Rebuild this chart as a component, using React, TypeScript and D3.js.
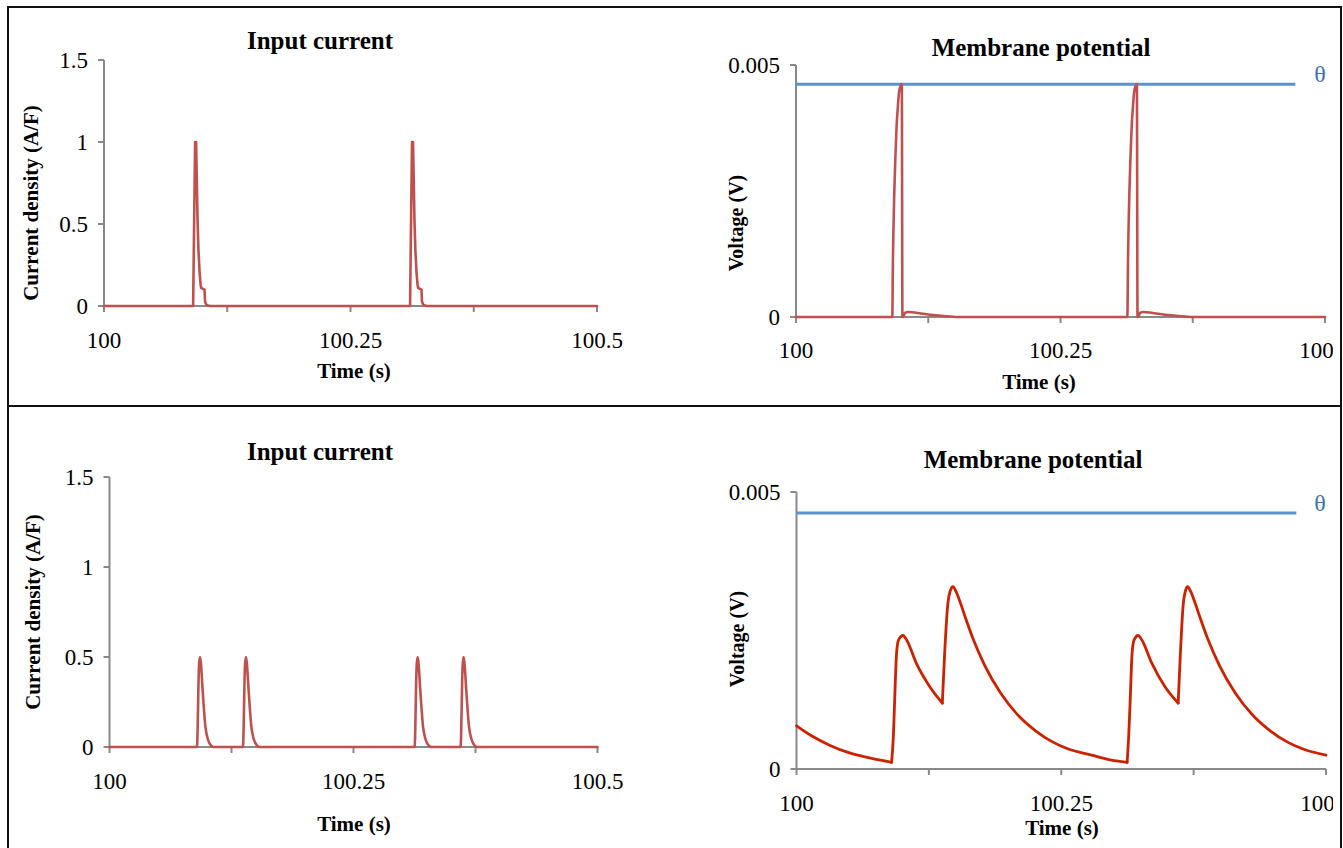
import React, { useEffect, useRef } from 'react';
import * as d3 from 'd3';

// shared axes
const timeTicks = [100, 100.125, 100.25, 100.375, 100.5];
const timeTickLabels = ['100', '', '100.25', '', '100.5'];
const currentTicks = [0, 0.5, 1, 1.5];
const currentTickLabels = ['0', '0.5', '1', '1.5'];
const voltageTicks = [0, 0.005];
const voltageTickLabels = ['0', '0.005'];

// threshold line
const thetaT = [100, 100.472];
const thetaV = [0.00462, 0.00462];

// case 1: two strong pulses, neuron fires
const current1T = [
  100, 100.0904, 100.0924, 100.0934, 100.0941, 100.0949, 100.0958, 100.097, 100.098, 100.0986,
  100.102, 100.1024, 100.1035, 100.1046, 100.1076,
  100.3104, 100.3124, 100.3134, 100.3141, 100.3149, 100.3158, 100.317, 100.318, 100.3186,
  100.322, 100.3224, 100.3235, 100.3246, 100.3276, 100.5,
];
const current1V = [
  0, 0, 1, 1, 0.78, 0.52, 0.34, 0.2, 0.13, 0.11,
  0.1, 0.03, 0.012, 0.005, 0,
  0, 1, 1, 0.78, 0.52, 0.34, 0.2, 0.13, 0.11,
  0.1, 0.03, 0.012, 0.005, 0, 0,
];
const voltage1T = [
  100, 100.091, 100.0916, 100.0929, 100.094, 100.0951, 100.0963, 100.0974, 100.0988, 100.1,
  100.1006, 100.1012, 100.103, 100.106, 100.115, 100.13, 100.155,
  100.3132, 100.3138, 100.3151, 100.3162, 100.3173, 100.3185, 100.3196, 100.321, 100.3222,
  100.3228, 100.3234, 100.3252, 100.3282, 100.3372, 100.3522, 100.3772, 100.5,
];
const voltage1V = [
  0, 0, 0.0011, 0.00247, 0.0032, 0.00379, 0.00418, 0.00446, 0.00458, 0.00462,
  0, 0, 0.00008, 0.0001, 0.00008, 0.00004, 0,
  0, 0.0011, 0.00247, 0.0032, 0.00379, 0.00418, 0.00446, 0.00458, 0.00462,
  0, 0, 0.00008, 0.0001, 0.00008, 0.00004, 0, 0,
];

// case 2: four weak pulses, no spike
const current2T = [
  100,
  100.0896, 100.0917, 100.0927, 100.0937, 100.0955, 100.0983, 100.1004, 100.1025, 100.1066,
  100.1367, 100.1388, 100.1398, 100.1408, 100.1426, 100.1454, 100.1475, 100.1496, 100.1537,
  100.3126, 100.3147, 100.3157, 100.3167, 100.3185, 100.3213, 100.3234, 100.3255, 100.3296,
  100.3597, 100.3618, 100.3628, 100.3638, 100.3656, 100.3684, 100.3705, 100.3726, 100.3767,
  100.5,
];
const current2V = [
  0,
  0, 0.45, 0.5, 0.46, 0.31, 0.11, 0.05, 0.02, 0,
  0, 0.45, 0.5, 0.46, 0.31, 0.11, 0.05, 0.02, 0,
  0, 0.45, 0.5, 0.46, 0.31, 0.11, 0.05, 0.02, 0,
  0, 0.45, 0.5, 0.46, 0.31, 0.11, 0.05, 0.02, 0,
  0,
];
const voltage2T = [
  100, 100.015, 100.0312, 100.0501, 100.069, 100.0898,
  100.0915, 100.0926, 100.0945, 100.0964, 100.1005, 100.104, 100.1131, 100.1257, 100.1377,
  100.1399, 100.143, 100.1451, 100.1477, 100.1507, 100.1547, 100.1597, 100.1667, 100.1777,
  100.1927, 100.2097, 100.2257, 100.2417, 100.2567, 100.2787, 100.295, 100.3122,
  100.3137, 100.315, 100.3169, 100.3188, 100.3226, 100.3261, 100.3355, 100.3478, 100.3604,
  100.3625, 100.3653, 100.3672, 100.3693, 100.3723, 100.3763, 100.3813, 100.3883, 100.3993,
  100.4143, 100.4313, 100.4473, 100.4633, 100.4783, 100.5,
];
const voltage2V = [
  0.00078, 0.00059, 0.00043, 0.00029, 0.0002, 0.00012,
  0.0006, 0.00119, 0.00209, 0.00233, 0.00241, 0.00233, 0.00191, 0.00149, 0.00119,
  0.00209, 0.003, 0.00321, 0.00329, 0.0032, 0.003, 0.00272, 0.00235, 0.00187,
  0.00137, 0.00096, 0.00069, 0.00049, 0.00036, 0.00025, 0.00017, 0.00012,
  0.0006, 0.00119, 0.00209, 0.00233, 0.00241, 0.00233, 0.00191, 0.00149, 0.00119,
  0.00209, 0.003, 0.00321, 0.00329, 0.0032, 0.003, 0.00272, 0.00235, 0.00187,
  0.00137, 0.00096, 0.00069, 0.00049, 0.00036, 0.00025,
];

const FONT = "'Liberation Serif', 'Times New Roman', serif";
const AXIS = '#898989';
const RED = '#c0504d';

const zip = (t: number[], v: number[]) => t.map((d, i) => [d, v[i]] as [number, number]);

function drawPanel(svg: any, p: any) {
  const x = d3.scaleLinear().domain([100, 100.5]).range([p.x0, p.x1]);
  const y = d3.scaleLinear().domain([0, p.yMax]).range([p.yBottom, p.yTop]);
  const g = svg.append('g');

  // y axis
  g.append('line')
    .attr('x1', p.x0).attr('x2', p.x0)
    .attr('y1', p.yTop).attr('y2', p.yBottom)
    .attr('stroke', AXIS).attr('stroke-width', 2);
  g.selectAll('.yt').data(p.yTicks).enter().append('line')
    .attr('x1', p.x0 - 6).attr('x2', p.x0)
    .attr('y1', (d: number) => y(d)).attr('y2', (d: number) => y(d))
    .attr('stroke', AXIS).attr('stroke-width', 2);
  g.selectAll('.yl').data(p.yTicks).enter().append('text')
    .attr('x', p.x0 - 16)
    .attr('y', (d: number) => y(d))
    .attr('dy', '0.34em')
    .attr('text-anchor', 'end')
    .attr('font-family', FONT).attr('font-size', 23)
    .text((d: number, i: number) => p.yLabels[i]);

  // x axis
  g.append('line')
    .attr('x1', p.x0).attr('x2', p.x1)
    .attr('y1', p.yBottom).attr('y2', p.yBottom)
    .attr('stroke', AXIS).attr('stroke-width', 2);
  g.selectAll('.xt').data(timeTicks).enter().append('line')
    .attr('x1', (d: number) => x(d)).attr('x2', (d: number) => x(d))
    .attr('y1', p.yBottom).attr('y2', p.yBottom + 6)
    .attr('stroke', AXIS).attr('stroke-width', 2);
  g.selectAll('.xl').data(timeTicks).enter().append('text')
    .attr('x', (d: number) => x(d))
    .attr('y', p.yBottom + p.tickGap)
    .attr('text-anchor', 'middle')
    .attr('font-family', FONT).attr('font-size', 23)
    .attr('clip-path', 'url(#page-clip)')
    .text((d: number, i: number) => timeTickLabels[i]);

  // titles
  g.append('text')
    .attr('x', p.titleX).attr('y', p.titleY)
    .attr('text-anchor', 'middle')
    .attr('font-family', FONT).attr('font-size', 25).attr('font-weight', 'bold')
    .text(p.title);
  g.append('text')
    .attr('x', p.xLabelX).attr('y', p.xLabelY)
    .attr('text-anchor', 'middle')
    .attr('font-family', FONT).attr('font-size', 21).attr('font-weight', 'bold')
    .text('Time (s)');
  g.append('text')
    .attr('transform', `translate(${p.yLabelX}, ${p.yLabelY}) rotate(-90)`)
    .attr('dy', '0.35em')
    .attr('text-anchor', 'middle')
    .attr('font-family', FONT).attr('font-size', p.yLabelSize).attr('font-weight', 'bold')
    .text(p.yLabel);

  // threshold
  if (p.theta) {
    const th = zip(thetaT, thetaV);
    g.append('path')
      .attr('d', d3.line().x((d) => x(d[0])).y((d) => y(d[1]))(th))
      .attr('fill', 'none').attr('stroke', '#5b93cf').attr('stroke-width', 3);
    g.append('text')
      .attr('x', 1320).attr('y', y(thetaV[0]) - 2)
      .attr('text-anchor', 'middle')
      .attr('font-family', FONT).attr('font-size', 24)
      .attr('fill', '#3f72b0')
      .text('θ');
  }

  // series, split at sharp minima so those stay pointed
  const pts = zip(p.t, p.v);
  const segs: [number, number][][] = [];
  let cur: [number, number][] = [pts[0]];
  for (let i = 1; i < pts.length; i++) {
    cur.push(pts[i]);
    if (p.split && i < pts.length - 1 && pts[i][1] < pts[i - 1][1] && pts[i][1] < pts[i + 1][1]) {
      segs.push(cur);
      cur = [pts[i]];
    }
  }
  segs.push(cur);
  const line = d3.line().x((d) => x(d[0])).y((d) => y(d[1])).curve(p.curve);
  segs.forEach((s) => {
    g.append('path')
      .attr('d', line(s))
      .attr('fill', 'none')
      .attr('stroke', p.color)
      .attr('stroke-width', p.width)
      .attr('stroke-linejoin', 'round')
      .attr('stroke-linecap', 'round');
  });
}

export default function App() {
  const ref = useRef<SVGSVGElement>(null);

  useEffect(() => {
    const svg = d3.select(ref.current);
    svg.selectAll('*').remove();

    svg.append('defs').append('clipPath').attr('id', 'page-clip')
      .append('rect').attr('x', 0).attr('y', 0).attr('width', 1333).attr('height', 848);

    svg.append('rect').attr('width', 1343).attr('height', 848).attr('fill', '#fff');

    drawPanel(svg, {
      x0: 104, x1: 597, yTop: 60, yBottom: 306, yMax: 1.5,
      yTicks: currentTicks, yLabels: currentTickLabels, tickGap: 42,
      title: 'Input current', titleX: 320, titleY: 49,
      xLabelX: 354, xLabelY: 378,
      yLabel: 'Current density (A/F)', yLabelX: 31, yLabelY: 203, yLabelSize: 21,
      t: current1T, v: current1V, curve: d3.curveLinear, color: RED, width: 2.6,
    });
    drawPanel(svg, {
      x0: 796, x1: 1325, yTop: 65, yBottom: 317, yMax: 0.005,
      yTicks: voltageTicks, yLabels: voltageTickLabels, tickGap: 41,
      title: 'Membrane potential', titleX: 1041, titleY: 56,
      xLabelX: 1039, xLabelY: 389,
      yLabel: 'Voltage (V)', yLabelX: 736, yLabelY: 223, yLabelSize: 20,
      theta: true,
      t: voltage1T, v: voltage1V, curve: d3.curveMonotoneX, color: RED, width: 2.6,
    });
    drawPanel(svg, {
      x0: 109.5, x1: 597.5, yTop: 477, yBottom: 747, yMax: 1.5,
      yTicks: currentTicks, yLabels: currentTickLabels, tickGap: 42,
      title: 'Input current', titleX: 320, titleY: 460,
      xLabelX: 354, xLabelY: 831,
      yLabel: 'Current density (A/F)', yLabelX: 33, yLabelY: 612, yLabelSize: 21,
      t: current2T, v: current2V, curve: d3.curveMonotoneX, color: RED, width: 2.6,
    });
    drawPanel(svg, {
      x0: 796.5, x1: 1326, yTop: 492, yBottom: 769, yMax: 0.005,
      yTicks: voltageTicks, yLabels: voltageTickLabels, tickGap: 42,
      title: 'Membrane potential', titleX: 1033, titleY: 468,
      xLabelX: 1062, xLabelY: 835,
      yLabel: 'Voltage (V)', yLabelX: 737, yLabelY: 639, yLabelSize: 20,
      theta: true, split: true,
      t: voltage2T, v: voltage2V, curve: d3.curveMonotoneX, color: '#cc2200', width: 2.8,
    });

    // frame
    const frame = svg.append('g').attr('stroke', '#111').attr('stroke-width', 2).attr('fill', 'none');
    frame.append('rect').attr('x', 8).attr('y', 7).attr('width', 1333).attr('height', 845);
    frame.append('line').attr('x1', 8).attr('x2', 1341).attr('y1', 406).attr('y2', 406);
  }, []);

  return (
    <svg
      ref={ref}
      width={1343}
      height={848}
      style={{ position: 'absolute', left: 0, top: 0, display: 'block' }}
    />
  );
}
